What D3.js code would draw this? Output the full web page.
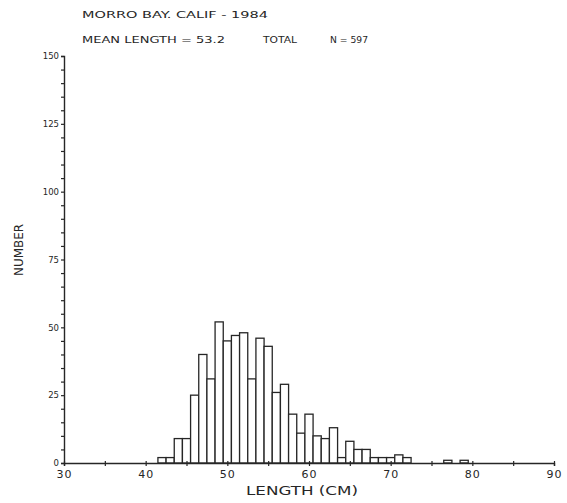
<!DOCTYPE html>
<html><head><meta charset="utf-8">
<script src="https://cdn.jsdelivr.net/npm/d3@7"></script>
<style>
body{margin:0;background:#fff;}
svg{display:block;}
text{font-family:"DejaVu Sans",sans-serif;fill:#262626;}
</style></head><body>
<div id="chart"></div>
<script>
const titleLine1 = "MORRO BAY. CALIF - 1984";
const titleMean = "MEAN LENGTH = 53.2";
const titleTotal = "TOTAL";
const titleN = "N = 597";
const xLabel = "LENGTH (CM)";
const yLabel = "NUMBER";
const lengths = [42,43,44,45,46,47,48,49,50,51,52,53,54,55,56,57,58,59,60,61,62,63,64,65,66,67,68,69,70,71,72,77,79];
const counts  = [2,2,9,9,25,40,31,52,45,47,48,31,46,43,26,29,18,11,18,10,9,13,2,8,5,5,2,2,2,3,2,1,1];
const xTicks = [30,35,40,45,50,55,60,65,70,75,80,85,90];
const xTickLabels = [30,40,50,60,70,80,90];
const yTicks = d3.range(0,151,5);
const yTickLabels = [0,25,50,75,100,125,150];

const W=567,H=503;
const svg=d3.select("#chart").append("svg").attr("width",W).attr("height",H);
const x=d3.scaleLinear().domain([30,90]).range([64,554]);
const y=d3.scaleLinear().domain([0,150]).range([463,56]);
const ink="#262626";

// bars
svg.append("g").selectAll("rect").data(lengths).join("rect")
  .attr("x",(d)=>x(d-0.5)).attr("width",(d)=>x(d+0.5)-x(d-0.5))
  .attr("y",(d,i)=>y(counts[i])).attr("height",(d,i)=>y(0)-y(counts[i]))
  .attr("fill","#fff").attr("stroke",ink).attr("stroke-width",1.3);

// x axis
const xa=svg.append("g").attr("transform",`translate(0,${y(0)})`)
  .call(d3.axisBottom(x).tickValues(xTicks).tickSize(3).tickFormat(d=>xTickLabels.includes(d)?d:""));
xa.select(".domain").attr("stroke",ink).attr("stroke-width",1.4);
xa.selectAll(".tick line").attr("stroke",ink).attr("stroke-width",1.2).attr("y1",-2);
xa.selectAll(".tick text").attr("font-size",11).attr("dy","0.9em").attr("y",5)
  .attr("letter-spacing",1).style("fill",ink);

// y axis
const ya=svg.append("g").attr("transform",`translate(${x(30)},0)`)
  .call(d3.axisLeft(y).tickValues(yTicks).tickSize(3).tickFormat(d=>yTickLabels.includes(d)?d:""));
ya.select(".domain").attr("stroke",ink).attr("stroke-width",1.4);
ya.selectAll(".tick line").attr("stroke",ink).attr("stroke-width",1.2);
ya.selectAll(".tick text").attr("font-size",8.5).attr("x",-5).style("fill",ink);

// titles
function label(t,xp,yp,len,fs){
  return svg.append("text").attr("x",xp).attr("y",yp).attr("font-size",fs)
    .attr("textLength",len).attr("lengthAdjust","spacingAndGlyphs").text(t);
}
label(titleLine1,82,18,186,9.5);
label(titleMean,82,43,143,9.5);
label(titleTotal,263,43,34,9.5);
label(titleN,330,43,38,9.5);
label(xLabel,246,495,112,12);
svg.append("text").attr("transform","translate(23,250) rotate(-90)")
  .attr("text-anchor","middle").attr("font-size",12)
  .attr("textLength",52).attr("lengthAdjust","spacingAndGlyphs").text(yLabel);
</script></body></html>
